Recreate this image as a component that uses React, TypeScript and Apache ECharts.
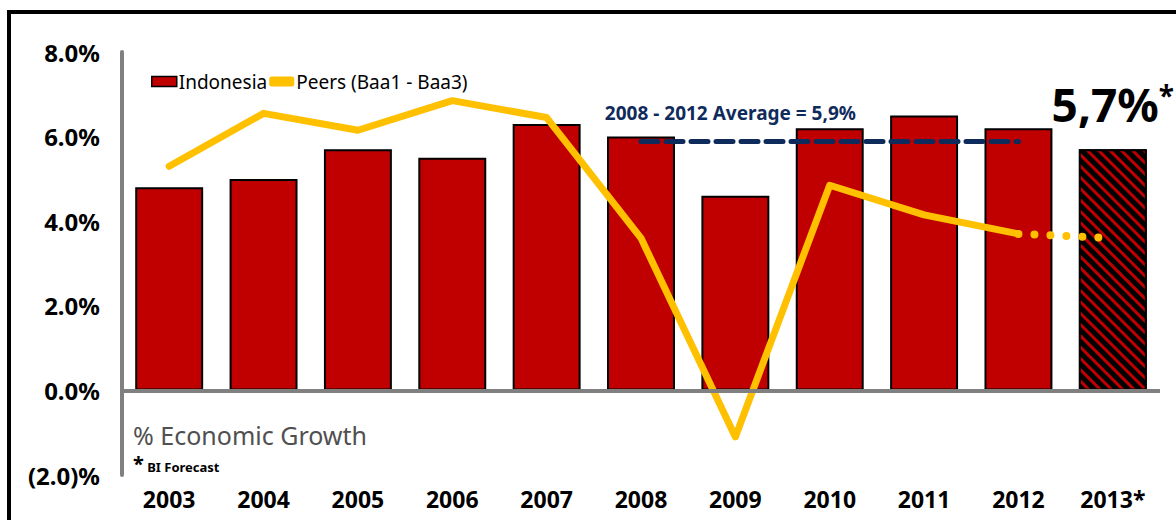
import React, { useEffect, useRef } from "react";
import * as echarts from "echarts";

const years = ["2003", "2004", "2005", "2006", "2007", "2008", "2009", "2010", "2011", "2012", "2013*"];
const indonesia = [4.8, 5.0, 5.7, 5.5, 6.3, 6.0, 4.6, 6.2, 6.5, 6.2, 5.7];
const peers = [5.3, 6.55, 6.15, 6.85, 6.45, 3.6, -1.1, 4.85, 4.15, 3.7, null];
const peersForecast = [null, null, null, null, null, null, null, null, null, 3.7, 3.6];
const averageValue = 5.9;
const averageFrom = "2008";
const averageTo = "2012";
const averageLabel = "2008 - 2012 Average = 5,9%";
const forecastLabel = "5,7%";
const yTicks = { min: -2, max: 8, interval: 2 };

const FONT = '"Noto Sans", sans-serif';
const RED = "#C00000";
const GOLD = "#FFC000";
const NAVY = "#0F2B5B";
const GRAY = "#808080";

export default function App() {
  const ref = useRef<HTMLDivElement>(null);
  useEffect(() => {
    if (!ref.current) return;
    const chart = echarts.init(ref.current, null, { renderer: "svg" });
    const lastIdx = indonesia.length - 1;
    const barData = indonesia.map((v, i) =>
      i === lastIdx
        ? {
            value: v,
            itemStyle: {
              color: "#000",
              borderColor: "#000",
              borderWidth: 2,
              decal: {
                symbol: "rect",
                symbolSize: 1,
                color: RED,
                dashArrayX: [1, 0],
                dashArrayY: [3, 5],
                rotation: Math.PI / 4,
              },
            },
            label: {
              show: true,
              position: "top",
              distance: 22,
              formatter: "{a|" + forecastLabel + "}{b|*}",
              rich: {
                a: { fontSize: 46, fontWeight: "bold", color: "#000", fontFamily: FONT, letterSpacing: -2 },
                b: { fontSize: 28, fontWeight: "bold", color: "#000", fontFamily: FONT, verticalAlign: "top", padding: [0, 0, 16, 0] },
              },
            },
          }
        : v
    );
    chart.setOption({
      animation: false,
      grid: { left: 122, right: 16, top: 52, bottom: 45 },
      legend: {
        left: 146,
        top: 67,
        itemGap: 2,
        itemWidth: 25,
        itemHeight: 10,
        textStyle: { fontSize: 19, color: "#000", fontFamily: FONT, padding: [0, 0, 0, -3] },
        data: [
          { name: "Indonesia", icon: "rect", itemStyle: { color: RED, borderColor: "#000", borderWidth: 1.5 } },
          { name: "Peers (Baa1 - Baa3)", icon: "roundRect", itemStyle: { color: GOLD } },
        ],
      },
      xAxis: {
        type: "category",
        data: years,
        axisLine: { show: false },
        axisTick: { show: false },
        axisLabel: { fontSize: 23, fontWeight: "bold", color: "#000", fontFamily: FONT, margin: 12 },
      },
      yAxis: {
        type: "value",
        min: yTicks.min,
        max: yTicks.max,
        interval: yTicks.interval,
        splitLine: { show: false },
        axisTick: { show: false },
        axisLine: { show: true, lineStyle: { color: GRAY, width: 4 } },
        axisLabel: {
          fontSize: 24,
          fontWeight: "bold",
          color: "#000",
          fontFamily: FONT,
          margin: 22,
          formatter: (v: number) => (v < 0 ? "(" + Math.abs(v).toFixed(1) + ")%" : v.toFixed(1) + "%"),
        },
      },
      series: [
        {
          name: "Indonesia",
          type: "bar",
          data: barData,
          barWidth: "72%",
          itemStyle: { color: RED, borderColor: "#000", borderWidth: 2 },
          markLine: {
            silent: true,
            symbol: "none",
            label: { show: false },
            lineStyle: { color: GRAY, width: 4, type: "solid" },
            data: [{ yAxis: 0 }],
          },
        },
        {
          name: "Peers (Baa1 - Baa3)",
          type: "line",
          data: peers,
          symbol: "none",
          z: 4,
          lineStyle: { color: GOLD, width: 7, cap: "round", join: "round" },
          itemStyle: { color: GOLD },
          markLine: {
            silent: true,
            symbol: "none",
            label: { show: false },
            lineStyle: { color: NAVY, width: 5, type: [17, 8], cap: "round" },
            data: [[{ coord: [averageFrom, averageValue] }, { coord: [averageTo, averageValue] }]],
          },
          markPoint: {
            silent: true,
            symbol: "rect",
            symbolSize: 1,
            itemStyle: { color: "rgba(0,0,0,0)" },
            label: {
              show: true,
              position: "inside",
              offset: [-5, -28],
              formatter: averageLabel,
              color: NAVY,
              fontSize: 19,
              fontWeight: "bold",
              fontFamily: FONT,
            },
            data: [{ coord: ["2009", averageValue] }],
          },
        },
        {
          name: "Peers forecast",
          type: "line",
          data: peersForecast,
          symbol: "none",
          z: 4,
          lineStyle: { color: GOLD, width: 8, type: [0, 16], cap: "round" },
        },
      ],
      graphic: [
        {
          type: "rect",
          shape: { x: 9, y: 12, width: 1200, height: 600 },
          style: { fill: "none", stroke: "#000", lineWidth: 4 },
          silent: true,
        },
        {
          type: "text",
          left: 133,
          top: 422,
          style: { text: "% Economic Growth", fontSize: 25, fill: "#505050", fontFamily: FONT, fontWeight: "normal" },
        },
        {
          type: "text",
          left: 133,
          top: 453,
          style: {
            text: "{s|*} {t|BI Forecast}",
            rich: {
              s: { fontSize: 20, fontWeight: "bold", fill: "#000", fontFamily: FONT },
              t: { fontSize: 13, fontWeight: "bold", fill: "#000", fontFamily: FONT, padding: [8, 0, 0, 0] },
            },
          },
        },
      ],
    });
    return () => chart.dispose();
  }, []);
  return <div ref={ref} style={{ position: "absolute", left: 0, top: 0, width: 1176, height: 520 }} />;
}
